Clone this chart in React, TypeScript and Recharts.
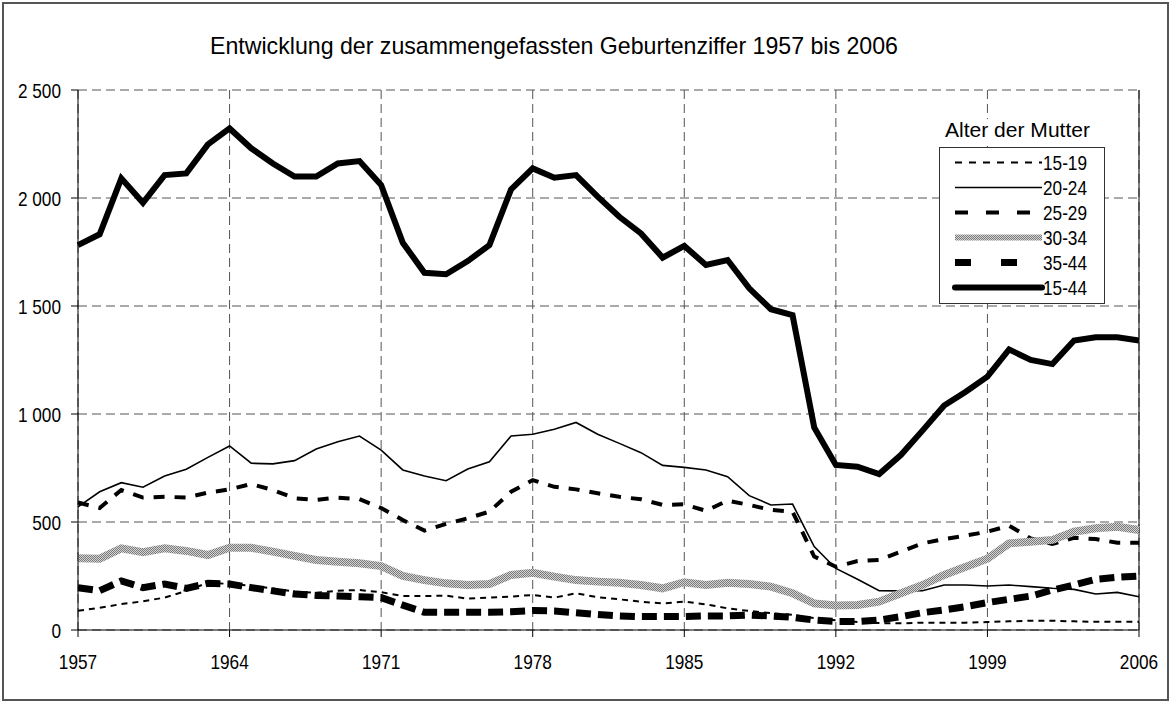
import React from "react";
import {
  LineChart,
  Line,
  XAxis,
  YAxis,
  CartesianGrid,
  ReferenceLine,
  Legend,
} from "recharts";

const years = [
  1957, 1958, 1959, 1960, 1961, 1962, 1963, 1964, 1965, 1966,
  1967, 1968, 1969, 1970, 1971, 1972, 1973, 1974, 1975, 1976,
  1977, 1978, 1979, 1980, 1981, 1982, 1983, 1984, 1985, 1986,
  1987, 1988, 1989, 1990, 1991, 1992, 1993, 1994, 1995, 1996,
  1997, 1998, 1999, 2000, 2001, 2002, 2003, 2004, 2005, 2006,
];

const age1519 = [
  89, 103, 120, 133, 150, 181, 219, 213, 205, 192,
  178, 172, 182, 185, 175, 157, 157, 159, 145, 150,
  155, 162, 150, 170, 152, 142, 131, 123, 131, 119,
  100, 88, 78, 70, 55, 45, 37, 32, 31, 34,
  34, 34, 37, 40, 43, 43, 40, 38, 38, 38,
];

const age2024 = [
  570, 640, 682, 661, 713, 744, 799, 852, 772, 769,
  784, 838, 872, 898, 833, 741, 713, 691, 745, 779,
  898, 906, 929, 961, 906, 864, 821, 762, 753, 741,
  710, 622, 579, 583, 386, 285, 235, 182, 181, 182,
  208, 208, 204, 208, 201, 193, 188, 167, 174, 154,
];

const age2529 = [
  590, 565, 648, 613, 617, 613, 636, 651, 676, 648,
  610, 602, 613, 606, 565, 509, 460, 491, 517, 548,
  640, 694, 663, 651, 633, 617, 605, 579, 582, 552,
  599, 579, 556, 548, 340, 293, 319, 324, 363, 401,
  421, 437, 455, 483, 424, 398, 427, 421, 404, 404,
];

const age3034 = [
  332, 330, 378, 360, 378, 366, 347, 381, 381, 363,
  343, 324, 316, 309, 296, 250, 231, 216, 208, 213,
  255, 265, 247, 231, 224, 219, 208, 193, 221, 208,
  219, 213, 201, 170, 123, 113, 116, 131, 170, 208,
  255, 293, 330, 401, 409, 417, 455, 471, 478, 463,
];

const age3544 = [
  196, 182, 227, 196, 213, 193, 216, 213, 196, 181,
  167, 160, 157, 154, 150, 115, 82, 82, 82, 82,
  85, 90, 88, 80, 72, 65, 62, 62, 62, 65,
  65, 69, 65, 59, 46, 39, 39, 46, 62, 80,
  93, 108, 127, 142, 157, 185, 208, 235, 244, 250,
];

const age1544 = [
  1782, 1832, 2091, 1978, 2106, 2114, 2248, 2322, 2230, 2160,
  2099, 2099, 2160, 2171, 2060, 1793, 1654, 1647, 1708, 1782,
  2040, 2137, 2094, 2106, 2006, 1913, 1836, 1724, 1778, 1690,
  1713, 1582, 1485, 1458, 938, 764, 756, 722, 810, 923,
  1039, 1103, 1173, 1299, 1250, 1231, 1340, 1355, 1355, 1340,
];

const xTicks = [1957, 1964, 1971, 1978, 1985, 1992, 1999, 2006];
const yTicks = [0, 500, 1000, 1500, 2000, 2500];

const title = "Entwicklung der zusammengefassten Geburtenziffer 1957 bis 2006";
const legendTitle = "Alter der Mutter";

const FONT = "'Liberation Sans', Arial, sans-serif";
const NARROW = 0.82; // squeeze Arial into an "Arial Narrow" look

// line styles, in drawing order
const series = [
  { key: "a1519", name: "15-19", values: age1519, stroke: "#000", width: 2, dash: "6 5", legendDash: "7 7" },
  { key: "a2024", name: "20-24", values: age2024, stroke: "#000", width: 1.6, dash: undefined, legendDash: undefined },
  { key: "a2529", name: "25-29", values: age2529, stroke: "#000", width: 4, dash: "11 10", legendDash: "13 18" },
  { key: "a3034", name: "30-34", values: age3034, stroke: "url(#grayDots)", width: 8, dash: undefined, legendDash: undefined },
  { key: "a3544", name: "35-44", values: age3544, stroke: "#000", width: 7, dash: "15 7", legendDash: "16 30" },
  { key: "a1544", name: "15-44", values: age1544, stroke: "#000", width: 6, dash: undefined, legendDash: undefined },
];

const data = years.map((year, i) => {
  const row: Record<string, number> = { year };
  series.forEach((s) => {
    row[s.key] = s.values[i];
  });
  return row;
});

const fmt = (v: number) =>
  v >= 1000 ? `${Math.floor(v / 1000)}\u00A0${String(v % 1000).padStart(3, "0")}` : String(v);

function NarrowText({ x, y, anchor, dy, children }: any) {
  return (
    <text
      transform={`translate(${x},${y}) scale(${NARROW},1)`}
      textAnchor={anchor}
      dy={dy}
      fontSize={21}
      fontFamily={FONT}
      fill="#000"
    >
      {children}
    </text>
  );
}

const XTick = (props: any) => (
  <NarrowText x={props.x} y={props.y} anchor="middle" dy="0.71em">
    {props.payload.value}
  </NarrowText>
);

const YTick = (props: any) => (
  <NarrowText x={props.x} y={props.y} anchor="end" dy="0.36em">
    {fmt(props.payload.value)}
  </NarrowText>
);

function LegendBox() {
  return (
    <svg width={168} height={192} style={{ display: "block" }}>
      <defs>
        <pattern id="grayDotsLegend" width="2" height="2" patternUnits="userSpaceOnUse">
          <rect width="2" height="2" fill="#d4d4d4" />
          <rect width="1" height="1" fill="#7a7a7a" />
          <rect x="1" y="1" width="1" height="1" fill="#7a7a7a" />
        </pattern>
      </defs>
      <rect x={10} y={4} width={146} height={24} fill="#fff" />
      <text
        x={6}
        y={22}
        fontSize={21}
        fontFamily={FONT}
        fill="#000"
        textLength={145}
        lengthAdjust="spacingAndGlyphs"
      >
        {legendTitle}
      </text>
      <rect x={0.5} y={32.5} width={165} height={156} fill="#fff" stroke="#333" strokeWidth={1} />
      {series.map((s, i) => {
        const y = 47.5 + i * 25;
        return (
          <g key={s.key}>
            <line
              x1={16}
              x2={103}
              y1={y}
              y2={y}
              stroke={s.key === "a3034" ? "url(#grayDotsLegend)" : s.stroke}
              strokeWidth={s.key === "a3034" ? 6 : s.width}
              strokeDasharray={s.legendDash}
              strokeLinecap={s.key === "a1544" ? "round" : "butt"}
            />
            <NarrowText x={104} y={y + 7.5} anchor="start">
              {s.name}
            </NarrowText>
          </g>
        );
      })}
    </svg>
  );
}

export default function App() {
  return (
    <div style={{ position: "absolute", left: 0, top: 0, width: 1173, height: 702, background: "#fff" }}>
      <div
        style={{
          position: "absolute",
          left: 2,
          top: 2,
          width: 1167,
          height: 699,
          border: "2px solid #555",
          boxSizing: "border-box",
        }}
      />
      <svg width={1173} height={70} style={{ position: "absolute", left: 0, top: 0 }}>
        <text
          x={210}
          y={54}
          fontSize={24}
          fontFamily={FONT}
          fill="#000"
          textLength={688}
          lengthAdjust="spacingAndGlyphs"
        >
          {title}
        </text>
      </svg>
      <div style={{ position: "absolute", left: 0, top: 0 }}>
        <LineChart
          width={1173}
          height={702}
          data={data}
          margin={{ top: 90, right: 34, bottom: 42, left: 8 }}
        >
          <defs>
            <pattern id="grayDots" width="2" height="2" patternUnits="userSpaceOnUse">
              <rect width="2" height="2" fill="#d4d4d4" />
              <rect width="1" height="1" fill="#7a7a7a" />
              <rect x="1" y="1" width="1" height="1" fill="#7a7a7a" />
            </pattern>
          </defs>
          <CartesianGrid stroke="#555" strokeDasharray="9 5" />
          <XAxis
            dataKey="year"
            type="number"
            domain={[1957, 2006]}
            ticks={xTicks}
            interval={0}
            height={30}
            tickSize={7}
            tickMargin={17}
            stroke="#000"
            tick={XTick}
          />
          <YAxis
            type="number"
            domain={[0, 2500]}
            ticks={yTicks}
            interval={0}
            width={70}
            tickSize={7}
            tickMargin={10}
            stroke="#000"
            tick={YTick}
          />
          <ReferenceLine x={2006} stroke="#000" strokeWidth={1} />
          {series.map((s) => (
            <Line
              key={s.key}
              type="linear"
              dataKey={s.key}
              name={s.name}
              stroke={s.stroke}
              strokeWidth={s.width}
              strokeDasharray={s.dash}
              dot={false}
              activeDot={false}
              isAnimationActive={false}
            />
          ))}
          <Legend
            layout="vertical"
            align="center"
            verticalAlign="middle"
            content={() => <LegendBox />}
            wrapperStyle={{ left: 939, top: 115, width: 168 }}
          />
        </LineChart>
      </div>
    </div>
  );
}
